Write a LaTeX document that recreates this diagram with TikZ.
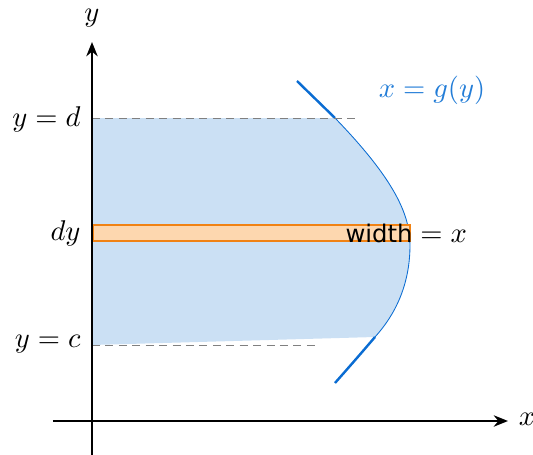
\documentclass[tikz,border=0pt]{standalone}
\usepackage{fontspec}
\newfontfamily\labelsans{DejaVu Sans}
\usetikzlibrary{arrows.meta}
\definecolor{regionfill}{RGB}{203,224,244}
\definecolor{curveblue}{RGB}{10,108,210}
\definecolor{labelblue}{RGB}{35,125,215}
\definecolor{stripedge}{RGB}{240,130,20}
\definecolor{stripfill}{RGB}{253,215,175}
\tikzset{
  axisline/.style={line width=0.75pt,-{Stealth[length=5pt,width=4pt]}},
  guide/.style={gray,line width=0.35pt,dash pattern=on 2.8pt off 1.9pt},
  curvethick/.style={curveblue,line width=0.85pt},
  curvethin/.style={curveblue,line width=0.3pt},
  strip/.style={draw=stripedge,fill=stripfill,line width=0.7pt},
  lab/.style={inner sep=0pt,font=\fontsize{10}{12}\selectfont}
}
\begin{document}
\begin{tikzpicture}[x=0.35pt,y=-0.35pt]
\useasboundingbox (0,0) rectangle (533,455);
\coordinate (gtop) at (335,118);
\coordinate (gvert) at (410,245);
\coordinate (gbot) at (375,337);
% region
\fill[regionfill] (92,118) -- (gtop)
  .. controls (395,180) and (410,215) .. (gvert)
  .. controls (410,285) and (395,315) .. (gbot)
  -- (92,345) -- cycle;
\draw[curvethin] (gtop) .. controls (395,180) and (410,215) .. (gvert)
  .. controls (410,285) and (395,315) .. (gbot);
\coordinate (gstart) at (297,81);
\coordinate (gend) at (335,383);
\draw[curvethick] (gstart) -- (gtop);
\draw[curvethick] (gbot) .. controls (357,358) .. (gend);
% guides
\coordinate (d0) at (92,118); \coordinate (d1) at (357,118);
\coordinate (c0) at (92,345); \coordinate (c1) at (318,345);
\draw[guide] (d0) -- (d1);
\draw[guide] (c0) -- (c1);
% strip
\node[strip,minimum width=317*0.35pt,minimum height=16*0.35pt,inner sep=0pt,anchor=north west] (stripbox) at (92,224) {};
% axes
\coordinate (xs) at (53,421); \coordinate (xe) at (508,421);
\coordinate (ys) at (92,455); \coordinate (ye) at (92,42);
\draw[axisline] (xs) -- (xe);
\draw[axisline] (ys) -- (ye);
% labels
\node[lab] (ylab) at (92,18) {$y$};
\node[lab] (xlab) at (527,419) {$x$};
\node[lab,anchor=east] (dlab) at (81,119) {$y=d$};
\node[lab,anchor=east] (dylab) at (81,233) {$dy$};
\node[lab,anchor=east] (clab) at (81,344) {$y=c$};
\node[lab,anchor=west] (wlab) at (345,233) {{\labelsans\fontsize{8.5}{10}\selectfont width}${}={}x$};
\node[lab,text=labelblue] (glab) at (432,90) {$x=g(y)$};
\end{tikzpicture}
\end{document}
